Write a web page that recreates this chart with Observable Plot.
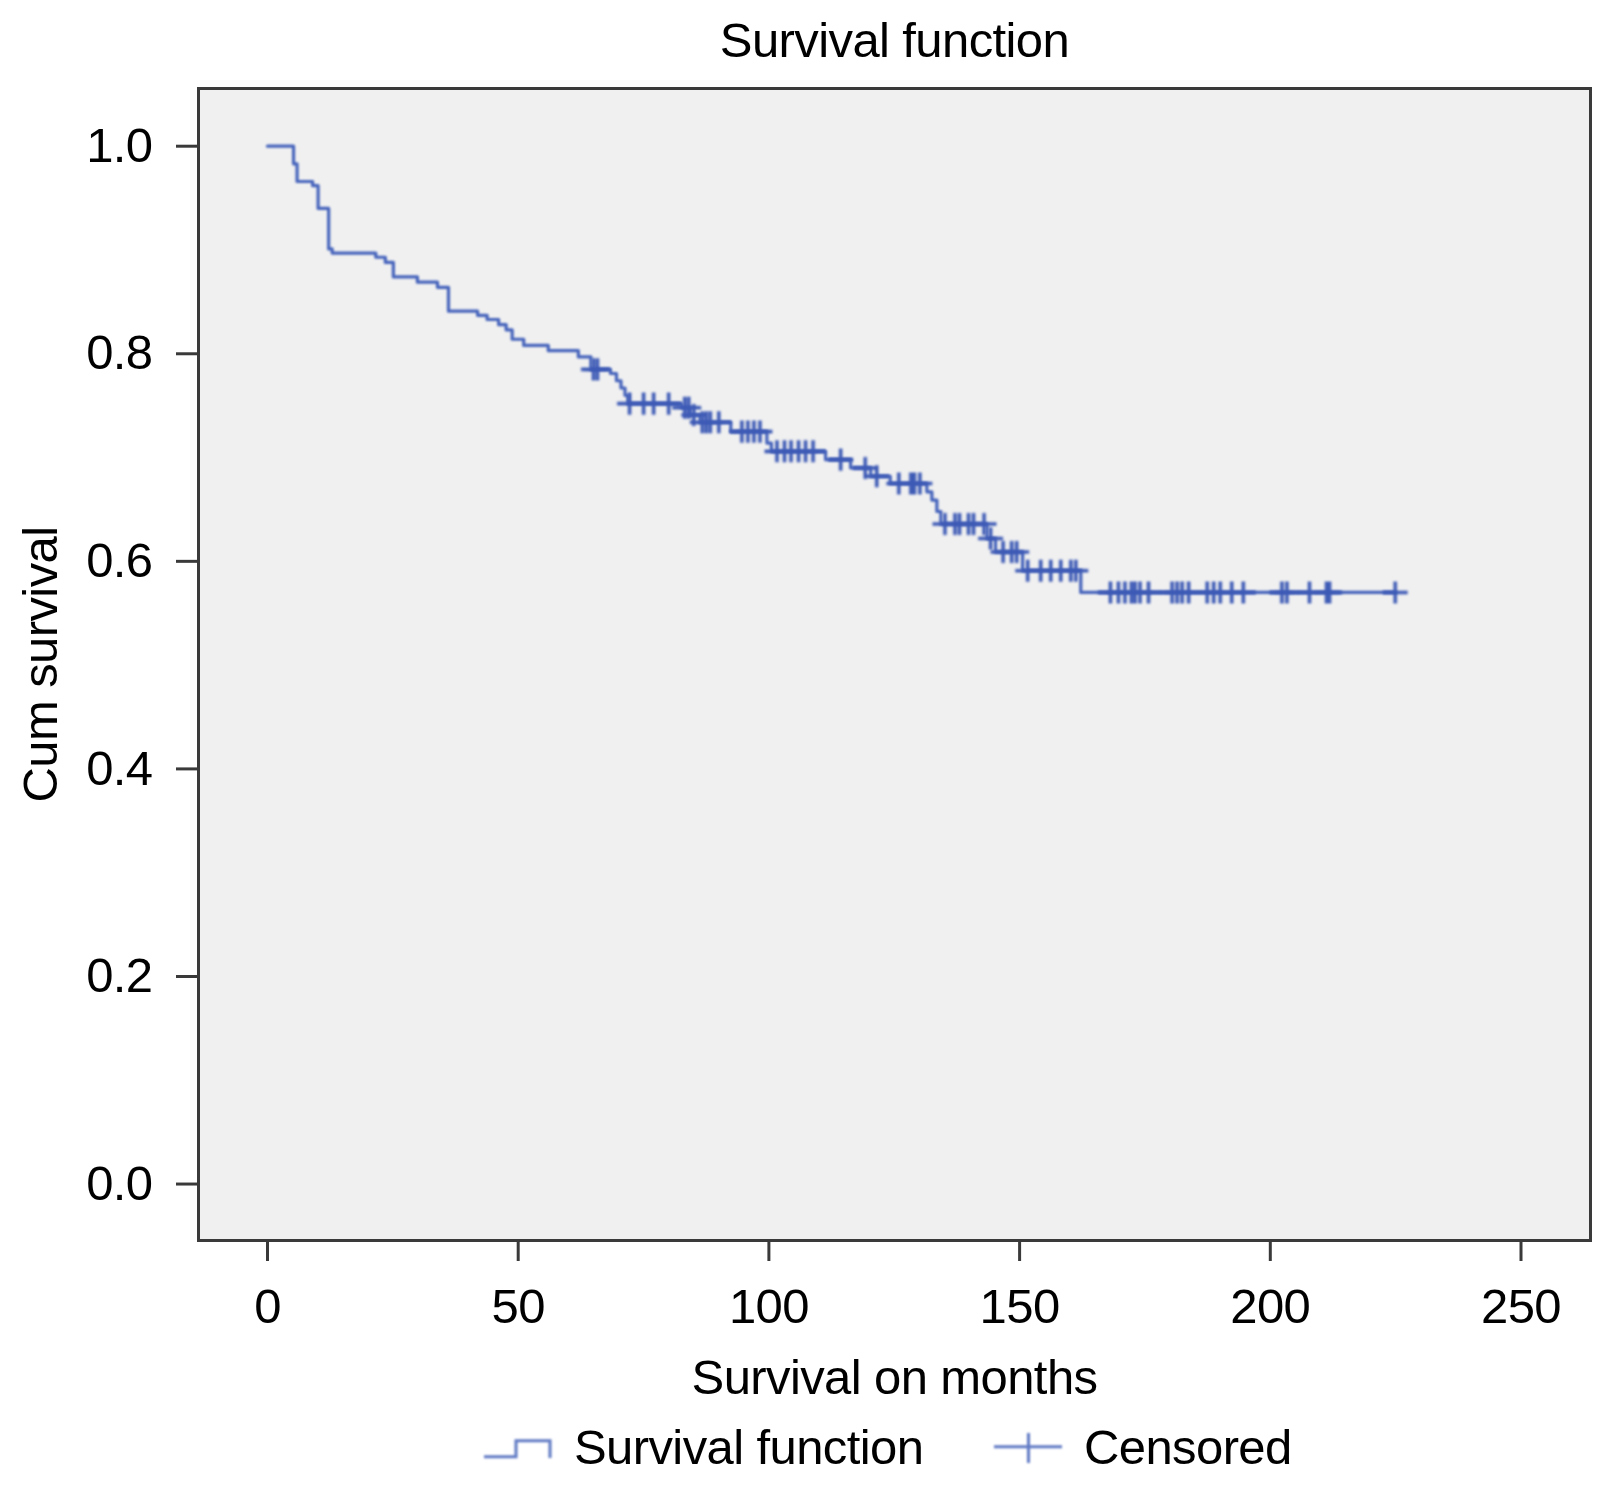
<!DOCTYPE html>
<html>
<head>
<meta charset="utf-8">
<script src="https://cdn.jsdelivr.net/npm/d3@7"></script>
<script src="https://cdn.jsdelivr.net/npm/@observablehq/plot@0.6"></script>
<style>
  html, body { margin: 0; padding: 0; background: #fff; }
  body { width: 1597px; height: 1493px; position: relative; overflow: hidden;
         font-family: "Liberation Sans", Arial, sans-serif; color: #000; }
  #chart { position: absolute; left: 0; top: 0; }
  .legend-text { position: absolute; top: 1423px; height: 49px; line-height: 49px;
                 font-size: 49px; letter-spacing: -0.6px; white-space: nowrap; }
  .legend-swatch { position: absolute; top: 1422px; overflow: visible; }
</style>
</head>
<body>
<div id="chart"></div>

<svg class="legend-swatch" style="left:484px" width="68" height="51">
  <path d="M0,34.7H32V18.7H66V36" fill="none" stroke="#5f79c4" stroke-width="3" style="filter:blur(0.8px)"/>
</svg>
<div class="legend-text" style="left:574px">Survival function</div>
<svg class="legend-swatch" style="left:994px" width="68" height="51">
  <path d="M0,24.7H68M34.5,11V41" fill="none" stroke="#5f79c4" stroke-width="3" style="filter:blur(0.8px)"/>
</svg>
<div class="legend-text" style="left:1084px">Censored</div>

<script>
// Kaplan–Meier estimate: months at which the curve steps down, and the survival after each step
const stepMonths = [
  0, 5.2, 5.9, 9.0, 10.1, 12.2, 12.9, 21.6, 23.5, 25.1, 29.9, 33.9, 36.1,
  41.9, 43.8, 46.1, 47.6, 48.8, 51.1, 56.0, 62.0, 64.5, 68.4, 69.6, 70.5,
  71.3, 71.9, 82.6, 84.3, 86.3, 92.4, 99.6, 100.5, 111.3, 116.3, 120.3,
  124.2, 131.5, 132.5, 133.5, 134.3, 143.5, 145.2, 150.6, 162.2
];
const stepSurvival = [
  1.000, 0.983, 0.966, 0.962, 0.940, 0.901, 0.897, 0.893, 0.888, 0.874, 0.869, 0.864, 0.841,
  0.837, 0.833, 0.828, 0.823, 0.814, 0.808, 0.803, 0.797, 0.785, 0.781, 0.774, 0.767,
  0.760, 0.752, 0.748, 0.741, 0.734, 0.725, 0.714, 0.706, 0.698, 0.690, 0.682,
  0.675, 0.667, 0.659, 0.648, 0.636, 0.622, 0.609, 0.591, 0.570
];

// Months of follow-up for censored cases
const censoredMonths = [
  65.0, 65.8, 72.2, 75.0, 77.0, 80.0, 83.2, 84.0, 85.0, 86.7, 87.5, 88.3, 90.0,
  94.6, 95.8, 97.0, 98.2, 101.6, 103.1, 104.4, 105.9, 107.3, 108.8, 114.3, 119.2,
  121.5, 125.9, 128.3, 129.0, 130.1, 135.1, 137.1, 138.0, 139.8, 140.8, 142.9,
  144.2, 146.7, 148.4, 149.4, 151.6, 154.2, 156.2, 158.2, 160.2, 161.2, 168.1,
  169.7, 171.0, 172.3, 173.0, 174.0, 175.7, 180.4, 181.4, 182.4, 183.7, 187.4,
  188.7, 190.0, 192.3, 194.6, 202.3, 203.3, 207.8, 211.2, 211.8, 224.9
];

const xTicks = [0, 50, 100, 150, 200, 250];
const yTicks = [0, 0.2, 0.4, 0.6, 0.8, 1.0];

const chartTitle = "Survival function";
const xLabel = "Survival on months";
const yLabel = "Cum survival";

const lineColor = "#4563bb";
const censorColor = "#3d5ab5";
const axisColor = "#3a3a3a";
const fontFamily = "'Liberation Sans', Arial, sans-serif";
const fontSize = 49;

// survival level of the step function at a given month
const survivalAt = (m) => stepSurvival[d3.bisectRight(stepMonths, m) - 1];

const curve = stepMonths.map((m, i) => ({month: m, survival: stepSurvival[i]}));
const lastMonth = d3.max(censoredMonths);
curve.push({month: lastMonth, survival: survivalAt(lastMonth)});

const censored = censoredMonths.map((m) => ({month: m, survival: survivalAt(m)}));

// open "+" censor tick: a little wider than tall
const censorSymbol = {
  draw(context, size) {
    const r = Math.sqrt(size / Math.PI);
    context.moveTo(-r * 1.04, 0);
    context.lineTo(r * 1.04, 0);
    context.moveTo(0, -r * 0.92);
    context.lineTo(0, r * 0.92);
  }
};

const chart = Plot.plot({
  width: 1597,
  height: 1410,
  marginLeft: 198,
  marginRight: 7,
  marginTop: 88,
  marginBottom: 170,
  style: {fontFamily, fontSize: `${fontSize}px`, color: "#000", background: "transparent",
          overflow: "visible", letterSpacing: "-0.6px"},
  x: {domain: [-13.76, 263.86]},
  y: {domain: [-0.0544, 1.0556]},
  marks: [
    Plot.frame({fill: "#f0f0f0", stroke: axisColor, strokeWidth: 3}),
    Plot.axisX({ticks: xTicks, tickSize: 21, tickPadding: 27, stroke: axisColor, strokeWidth: 3,
                label: null, fontSize}),
    Plot.axisY({ticks: yTicks, tickFormat: d3.format(".1f"), tickSize: 22, tickPadding: 24,
                stroke: axisColor, strokeWidth: 3, label: null, fontSize}),
    Plot.line(curve, {x: "month", y: "survival", curve: "step-after",
                      stroke: lineColor, strokeWidth: 3.2}),
    Plot.dot(censored, {x: "month", y: "survival", symbol: censorSymbol, r: 12,
                        fill: "none", stroke: censorColor, strokeWidth: 3.6}),
    Plot.text([chartTitle], {text: (d) => d, frameAnchor: "top", dy: -47,
                             textAnchor: "middle", lineAnchor: "middle", fontSize}),
    Plot.text([xLabel], {text: (d) => d, frameAnchor: "bottom", dy: 138,
                         textAnchor: "middle", lineAnchor: "middle", fontSize}),
    Plot.text([yLabel], {text: (d) => d, frameAnchor: "left", dx: -157, rotate: -90,
                         textAnchor: "middle", lineAnchor: "middle", fontSize})
  ]
});

// the plotted curve and censor marks are slightly soft
d3.select(chart).selectAll('g[aria-label="line"], g[aria-label="dot"]').style("filter", "blur(1px)");

document.getElementById("chart").appendChild(chart);
</script>
</body>
</html>
